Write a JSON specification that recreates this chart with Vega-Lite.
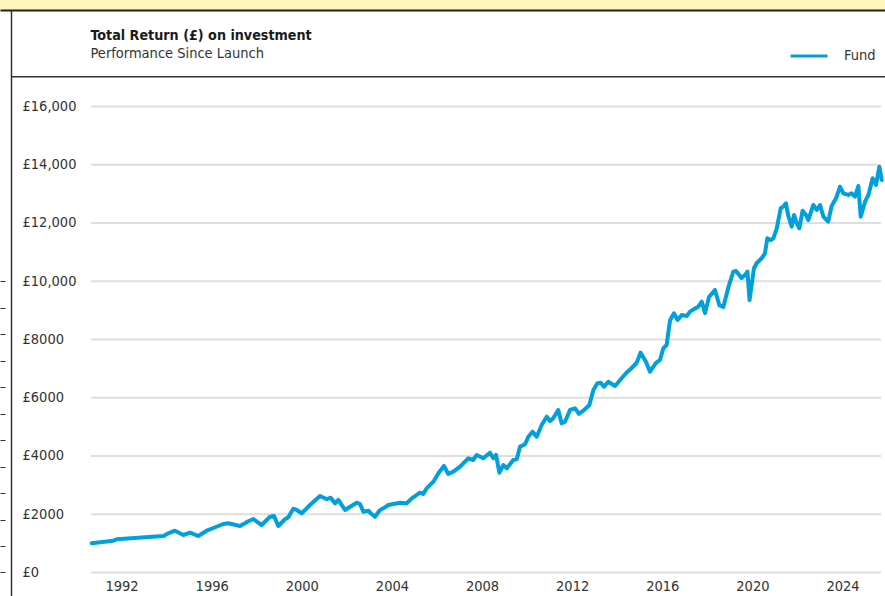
{
  "$schema": "https://vega.github.io/schema/vega-lite/v6.json",
  "width": 885,
  "height": 586,
  "autosize": {"type": "none"},
  "padding": {"top": 10, "left": 0, "right": 0, "bottom": 0},
  "background": "#fdf5b9",
  "config": {
    "view": {"fill": "white", "stroke": null},
    "font": "DejaVu Sans Condensed, sans-serif"
  },
  "title": {
    "text": "Total Return (£) on investment",
    "subtitle": "Performance Since Launch",
    "anchor": "start",
    "orient": "top",
    "dx": 91,
    "offset": -50,
    "font": "DejaVu Sans Condensed, sans-serif",
    "subtitleFont": "DejaVu Sans Condensed, sans-serif",
    "fontSize": 14.2,
    "fontWeight": "bold",
    "color": "#1a1a1a",
    "subtitleFontSize": 14.5,
    "subtitleColor": "#333333",
    "subtitlePadding": 3
  },
  "datasets": {
    "grid": [
      {"v": 0}, {"v": 2000}, {"v": 4000}, {"v": 6000}, {"v": 8000},
      {"v": 10000}, {"v": 12000}, {"v": 14000}, {"v": 16000}
    ],
    "fund": [
      {"date": "1990-09-04", "value": 1003},
      {"date": "1991-08-19", "value": 1092},
      {"date": "1991-10-14", "value": 1140},
      {"date": "1993-11-09", "value": 1253},
      {"date": "1994-01-28", "value": 1346},
      {"date": "1994-05-15", "value": 1435},
      {"date": "1994-09-28", "value": 1288},
      {"date": "1995-01-15", "value": 1367},
      {"date": "1995-05-27", "value": 1253},
      {"date": "1995-10-12", "value": 1435},
      {"date": "1996-01-27", "value": 1528},
      {"date": "1996-07-07", "value": 1665},
      {"date": "1996-09-27", "value": 1690},
      {"date": "1997-04-04", "value": 1597},
      {"date": "1997-06-24", "value": 1690},
      {"date": "1997-08-17", "value": 1758},
      {"date": "1997-11-07", "value": 1837},
      {"date": "1998-01-01", "value": 1745},
      {"date": "1998-03-21", "value": 1631},
      {"date": "1998-08-04", "value": 1916},
      {"date": "1998-10-08", "value": 1940},
      {"date": "1998-12-16", "value": 1597},
      {"date": "1999-04-03", "value": 1827},
      {"date": "1999-05-26", "value": 1895},
      {"date": "1999-08-16", "value": 2190},
      {"date": "1999-10-10", "value": 2146},
      {"date": "1999-12-31", "value": 2033},
      {"date": "2000-05-13", "value": 2318},
      {"date": "2000-10-22", "value": 2627},
      {"date": "2001-02-10", "value": 2514},
      {"date": "2001-04-14", "value": 2569},
      {"date": "2001-06-22", "value": 2376},
      {"date": "2001-08-15", "value": 2490},
      {"date": "2001-12-02", "value": 2146},
      {"date": "2002-02-22", "value": 2259},
      {"date": "2002-06-09", "value": 2397},
      {"date": "2002-08-02", "value": 2352},
      {"date": "2002-09-24", "value": 2088},
      {"date": "2002-12-14", "value": 2122},
      {"date": "2003-01-27", "value": 2026},
      {"date": "2003-04-01", "value": 1916},
      {"date": "2003-06-21", "value": 2146},
      {"date": "2003-08-14", "value": 2204},
      {"date": "2003-11-04", "value": 2318},
      {"date": "2004-05-11", "value": 2397},
      {"date": "2004-08-28", "value": 2376},
      {"date": "2004-11-18", "value": 2547},
      {"date": "2005-03-31", "value": 2740},
      {"date": "2005-05-23", "value": 2695},
      {"date": "2005-07-18", "value": 2891},
      {"date": "2005-11-03", "value": 3118},
      {"date": "2006-01-23", "value": 3406},
      {"date": "2006-04-24", "value": 3657},
      {"date": "2006-07-03", "value": 3382},
      {"date": "2006-09-23", "value": 3461},
      {"date": "2007-01-10", "value": 3633},
      {"date": "2007-05-22", "value": 3921},
      {"date": "2007-08-12", "value": 3863},
      {"date": "2007-10-07", "value": 4035},
      {"date": "2008-01-22", "value": 3921},
      {"date": "2008-05-09", "value": 4114},
      {"date": "2008-07-02", "value": 3921},
      {"date": "2008-08-15", "value": 4035},
      {"date": "2008-10-08", "value": 3427},
      {"date": "2008-12-12", "value": 3691},
      {"date": "2009-02-06", "value": 3578},
      {"date": "2009-05-21", "value": 3863},
      {"date": "2009-07-16", "value": 3887},
      {"date": "2009-09-08", "value": 4320},
      {"date": "2009-11-28", "value": 4402},
      {"date": "2010-01-21", "value": 4663},
      {"date": "2010-04-01", "value": 4835},
      {"date": "2010-06-05", "value": 4663},
      {"date": "2010-08-25", "value": 5065},
      {"date": "2010-11-15", "value": 5350},
      {"date": "2011-01-08", "value": 5202},
      {"date": "2011-02-28", "value": 5295},
      {"date": "2011-05-20", "value": 5580},
      {"date": "2011-07-15", "value": 5123},
      {"date": "2011-09-07", "value": 5178},
      {"date": "2011-11-27", "value": 5580},
      {"date": "2012-02-17", "value": 5638},
      {"date": "2012-04-21", "value": 5443},
      {"date": "2012-06-29", "value": 5556},
      {"date": "2012-10-06", "value": 5751},
      {"date": "2012-12-10", "value": 6266},
      {"date": "2013-02-13", "value": 6497},
      {"date": "2013-04-08", "value": 6517},
      {"date": "2013-05-30", "value": 6380},
      {"date": "2013-08-09", "value": 6551},
      {"date": "2013-11-26", "value": 6404},
      {"date": "2014-03-13", "value": 6668},
      {"date": "2014-06-03", "value": 6867},
      {"date": "2014-08-23", "value": 7022},
      {"date": "2014-11-10", "value": 7193},
      {"date": "2015-01-14", "value": 7547},
      {"date": "2015-04-11", "value": 7238},
      {"date": "2015-06-16", "value": 6895},
      {"date": "2015-09-22", "value": 7194},
      {"date": "2015-11-25", "value": 7296},
      {"date": "2016-01-18", "value": 7699},
      {"date": "2016-03-12", "value": 7811},
      {"date": "2016-05-05", "value": 8652},
      {"date": "2016-07-09", "value": 8900},
      {"date": "2016-09-05", "value": 8670},
      {"date": "2016-11-12", "value": 8842},
      {"date": "2017-02-02", "value": 8807},
      {"date": "2017-03-25", "value": 8955},
      {"date": "2017-05-17", "value": 9027},
      {"date": "2017-08-07", "value": 9127},
      {"date": "2017-10-01", "value": 9298},
      {"date": "2017-11-24", "value": 8910},
      {"date": "2018-01-28", "value": 9460},
      {"date": "2018-05-04", "value": 9700},
      {"date": "2018-07-16", "value": 9168},
      {"date": "2018-09-17", "value": 9116},
      {"date": "2018-12-07", "value": 9786},
      {"date": "2019-02-26", "value": 10328},
      {"date": "2019-04-10", "value": 10352},
      {"date": "2019-07-11", "value": 10112},
      {"date": "2019-09-11", "value": 10232},
      {"date": "2019-10-13", "value": 10328},
      {"date": "2019-11-16", "value": 9356},
      {"date": "2020-01-27", "value": 10445},
      {"date": "2020-03-10", "value": 10617},
      {"date": "2020-05-30", "value": 10789},
      {"date": "2020-07-23", "value": 10960},
      {"date": "2020-08-30", "value": 11475},
      {"date": "2020-10-24", "value": 11417},
      {"date": "2020-12-06", "value": 11475},
      {"date": "2021-01-30", "value": 11818},
      {"date": "2021-04-04", "value": 12505},
      {"date": "2021-05-15", "value": 12560},
      {"date": "2021-06-28", "value": 12677},
      {"date": "2021-08-05", "value": 12241},
      {"date": "2021-09-29", "value": 11873},
      {"date": "2021-11-06", "value": 12275},
      {"date": "2021-12-20", "value": 11990},
      {"date": "2022-02-01", "value": 11818},
      {"date": "2022-03-25", "value": 12423},
      {"date": "2022-05-18", "value": 12275},
      {"date": "2022-06-25", "value": 12103},
      {"date": "2022-09-15", "value": 12618},
      {"date": "2022-11-09", "value": 12447},
      {"date": "2023-01-02", "value": 12618},
      {"date": "2023-02-25", "value": 12217},
      {"date": "2023-05-14", "value": 12045},
      {"date": "2023-07-09", "value": 12584},
      {"date": "2023-09-18", "value": 12848},
      {"date": "2023-11-21", "value": 13246},
      {"date": "2024-01-15", "value": 13020},
      {"date": "2024-04-04", "value": 12962},
      {"date": "2024-05-28", "value": 13020},
      {"date": "2024-07-21", "value": 12903},
      {"date": "2024-09-14", "value": 13270},
      {"date": "2024-10-22", "value": 12217},
      {"date": "2025-01-01", "value": 12732},
      {"date": "2025-02-24", "value": 12962},
      {"date": "2025-05-04", "value": 13535},
      {"date": "2025-06-27", "value": 13305},
      {"date": "2025-08-20", "value": 13933},
      {"date": "2025-09-28", "value": 13477}
    ]
  },
  "resolve": {"axis": {"x": "independent", "y": "independent"}},
  "layer": [
    {
      "data": {"name": "grid"},
      "mark": {"type": "rule", "color": "#dedede", "strokeWidth": 2},
      "encoding": {
        "x": {
          "datum": {"year": 1990, "month": 8, "date": 24},
          "type": "temporal",
          "scale": {"domain": [{"year": 1986, "month": 8, "date": 9}, {"year": 2025, "month": 11, "date": 20}]},
          "axis": {
            "orient": "bottom",
            "offset": -22,
            "values": [
              {"year": 1992, "month": 1, "date": 1}, {"year": 1996, "month": 1, "date": 1},
              {"year": 2000, "month": 1, "date": 1}, {"year": 2004, "month": 1, "date": 1},
              {"year": 2008, "month": 1, "date": 1}, {"year": 2012, "month": 1, "date": 1},
              {"year": 2016, "month": 1, "date": 1}, {"year": 2020, "month": 1, "date": 1},
              {"year": 2024, "month": 1, "date": 1}
            ],
            "format": "%Y",
            "title": null,
            "domain": false,
            "ticks": false,
            "grid": false,
            "labelFontSize": 14.5,
            "labelColor": "#333333",
            "labelPadding": 5,
            "labelFlush": false,
            "labelOverlap": false
          }
        },
        "x2": {"datum": {"year": 2025, "month": 9, "date": 16}},
        "y": {
          "field": "v",
          "type": "quantitative",
          "scale": {"domain": [-807, 19313], "nice": false, "zero": false},
          "axis": {
            "orient": "left",
            "offset": -11,
            "values": [0, 2000, 4000, 6000, 8000, 10000, 12000, 14000, 16000],
            "labelExpr": "datum.value >= 10000 ? '£' + format(datum.value, ',') : '£' + format(datum.value, 'd')",
            "title": null,
            "grid": false,
            "ticks": false,
            "domain": true,
            "domainColor": "#333333",
            "domainWidth": 1.5,
            "labelAlign": "left",
            "labelPadding": -11,
            "labelFontSize": 14.5,
            "labelColor": "#333333"
          }
        }
      }
    },
    {
      "data": {"name": "fund"},
      "mark": {"type": "line", "strokeWidth": 4, "strokeJoin": "round", "strokeCap": "round"},
      "encoding": {
        "x": {
          "field": "date",
          "type": "temporal",
          "scale": {"domain": [{"year": 1986, "month": 8, "date": 9}, {"year": 2025, "month": 11, "date": 20}]},
          "axis": {
            "orient": "top",
            "offset": 0,
            "title": null,
            "labels": false,
            "ticks": false,
            "grid": false,
            "domain": true,
            "domainColor": "#222222",
            "domainWidth": 2
          }
        },
        "y": {
          "field": "value",
          "type": "quantitative",
          "scale": {"domain": [-807, 19313], "nice": false, "zero": false},
          "axis": {
            "orient": "left",
            "offset": 0,
            "title": null,
            "values": [0, 909.09, 1818.18, 2727.27, 3636.36, 4545.45, 5454.55, 6363.64, 7272.73, 8181.82, 9090.91, 10000],
            "labels": false,
            "domain": false,
            "grid": false,
            "ticks": true,
            "tickSize": -5,
            "tickColor": "#333333",
            "tickWidth": 1
          }
        },
        "color": {
          "datum": "Fund",
          "type": "nominal",
          "scale": {"range": ["#00a0dc"]},
          "legend": {
            "title": null,
            "orient": "none",
            "legendX": 789,
            "legendY": 26,
            "symbolType": "stroke",
            "symbolSize": 1369,
            "symbolStrokeWidth": 3,
            "labelFontSize": 14.5,
            "labelColor": "#333333",
            "labelOffset": 15,
            "padding": 0
          }
        }
      }
    },
    {
      "data": {"values": [{"frame": "header"}]},
      "mark": {"type": "rule", "color": "#333333", "strokeWidth": 1.5},
      "encoding": {
        "x": {"datum": {"year": 1987, "month": 2, "date": 4}, "type": "temporal", "axis": null},
        "x2": {"datum": {"year": 2025, "month": 11, "date": 20}},
        "y": {"datum": 17020, "type": "quantitative", "axis": null}
      }
    }
  ]
}
